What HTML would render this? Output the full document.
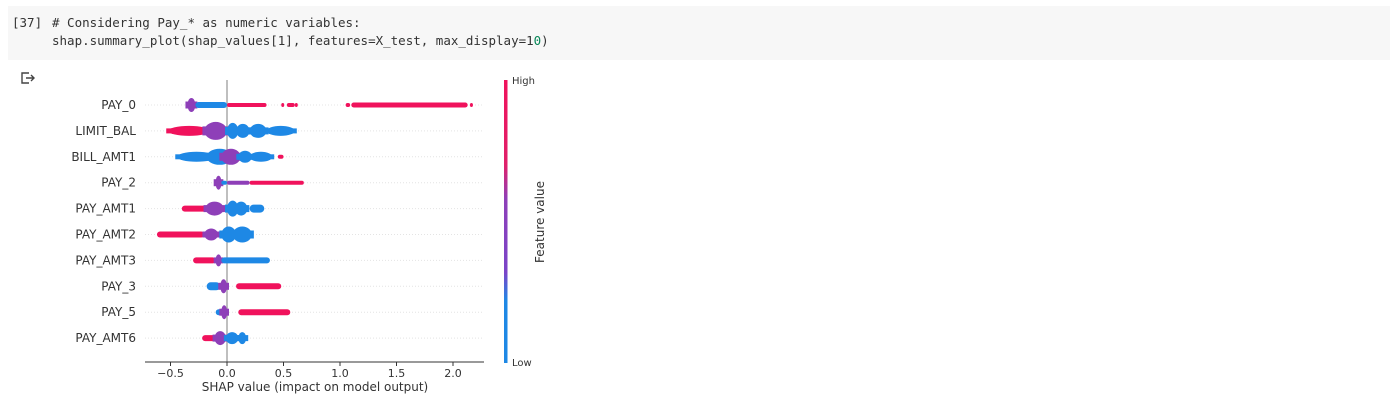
<!DOCTYPE html>
<html><head><meta charset="utf-8">
<style>
body{margin:0;width:1400px;height:402px;background:#fff;overflow:hidden;font-family:"DejaVu Sans","Liberation Sans",sans-serif;}
.cell{position:absolute;left:8px;top:6px;width:1382px;height:54px;background:#f7f7f7;}
.code{position:absolute;font-family:"DejaVu Sans Mono","Liberation Mono",monospace;font-size:12.5px;color:#333;white-space:pre;}
</style></head><body>
<div class="cell"></div>
<div class="code" style="left:12px;top:15px">[37]</div>
<div class="code" style="left:52px;top:15px"># Considering Pay_* as numeric variables:</div>
<div class="code" style="left:52px;top:33px">shap.summary_plot(shap_values[1], features=X_test, max_display=1<span style="color:#098658">0</span>)</div>
<svg style="position:absolute;left:20px;top:71px" width="16" height="14"><path d="M9 2H2v10h7M6 7h8M11 4l3 3-3 3" fill="none" stroke="#444" stroke-width="1.4"/></svg>
<svg id="chart" style="position:absolute;left:0;top:0" width="1400" height="402"></svg>
<script>
const features=["PAY_0","LIMIT_BAL","BILL_AMT1","PAY_2","PAY_AMT1","PAY_AMT2","PAY_AMT3","PAY_3","PAY_5","PAY_AMT6"];
const segStart=[
[-0.35,-0.28,0.0,0.48,0.53,0.6,1.05,1.1,2.15],
[-0.52,-0.2,0.0,0.08,0.2,0.35],
[-0.44,-0.18,-0.05,0.1,0.2,0.45],
[-0.1,-0.05,0.0,0.2],
[-0.4,-0.19,0.0,0.07,0.2],
[-0.62,-0.2,-0.05,0.05],
[-0.3,-0.1,-0.05],
[-0.18,-0.06,0.08],
[-0.1,-0.05,0.1],
[-0.22,-0.11,-0.01,0.1]];
const segEnd=[
[-0.28,0.0,0.35,0.5,0.6,0.62,1.09,2.13,2.17],
[-0.15,0.0,0.1,0.2,0.35,0.6],
[-0.1,0.05,0.12,0.22,0.4,0.5],
[-0.05,0.0,0.2,0.68],
[-0.18,-0.03,0.1,0.18,0.33],
[-0.2,-0.08,0.08,0.22],
[-0.1,-0.05,0.38],
[-0.06,0.0,0.48],
[0.0,0.0,0.56],
[-0.1,-0.01,0.1,0.17]];
const segHalf=[
[7,3,2,2,2,2,2,2.5,2],
[5,9,8,7,7,5],
[5,8,8,6,5,2],
[7,2,2,2],
[3,7,8,7,4],
[3,6,8,8],
[3,6,3],
[4,7,3],
[3,7,3],
[3,7,6,6]];
const segColor=[
["p","b","r","r","r","r","r","r","r"],
["r","p","b","b","b","b"],
["b","b","p","b","b","r"],
["p","b","p","r"],
["r","p","b","b","b"],
["r","p","b","b"],
["r","p","b"],
["b","p","r"],
["b","p","r"],
["r","p","b","b"]];
const xTicks=[-0.5,0,0.5,1,1.5,2];
const xTickLabels=["\u22120.5","0.0","0.5","1.0","1.5","2.0"];
const COL={r:"#f0125c",b:"#1e88e5",p:"#8e3fb8"};
const NS="http://www.w3.org/2000/svg";
const svg=document.getElementById('chart');
const x0=227,k=113,y0=105,dy=25.9;
const X=v=>x0+v*k, Y=i=>y0+i*dy;
function el(t,a){const e=document.createElementNS(NS,t);for(const n in a)e.setAttribute(n,a[n]);svg.appendChild(e);return e;}
features.forEach((f,i)=>{
 const g=el('line',{x1:145,x2:484,y1:Y(i),y2:Y(i),stroke:"#e4e4e4","stroke-width":1,"stroke-dasharray":"1 2"});
 
 
 const t=el('text',{x:136,y:Y(i)+4,"text-anchor":"end","font-size":12,fill:"#333"});t.textContent=f;
 
 
});
const zl=el('line',{x1:X(0),x2:X(0),y1:80,y2:362,stroke:"#aaa","stroke-width":1.5});


features.forEach((f,i)=>{
 segStart[i].forEach((s,j)=>{
  const a=X(s),b=X(segEnd[i][j]),h=segHalf[i][j],c=COL[segColor[i][j]];
  let m;
  if(h>=5){
   const r=el('rect',{x:a-2,y:Y(i)-h*0.5,width:Math.max(b-a,3)+4,height:h,fill:c});
   
   
   m=el('ellipse',{cx:(a+b)/2,cy:Y(i),rx:Math.max((b-a)/2,3),ry:h,fill:c});}
  else{m=el('rect',{x:a,y:Y(i)-h,width:Math.max(b-a,3),height:2*h,rx:h,fill:c});}
  
  
 });
});
const ax=el('line',{x1:145,x2:484,y1:362,y2:362,stroke:"#333","stroke-width":1});


xTicks.forEach((v,i)=>{
 const tk=el('line',{x1:X(v),x2:X(v),y1:362,y2:366,stroke:"#333"});
 
 
 const t=el('text',{x:X(v),y:377,"text-anchor":"middle","font-size":11,fill:"#333"});t.textContent=xTickLabels[i];
 
 
});
const xt=el('text',{x:315,y:391,"text-anchor":"middle","font-size":12,fill:"#333"});xt.textContent="SHAP value (impact on model output)";


const defs=el('defs',{});
defs.innerHTML='<linearGradient id="cb" x1="0" y1="0" x2="0" y2="1"><stop offset="0" stop-color="#f0125c"/><stop offset="0.3" stop-color="#e0206a"/><stop offset="0.42" stop-color="#8e3fb8"/><stop offset="0.68" stop-color="#7a44c8"/><stop offset="0.78" stop-color="#1e88e5"/><stop offset="1" stop-color="#1e88e5"/></linearGradient>';
const cb=el('rect',{x:504,y:80,width:3.5,height:283,fill:"url(#cb)"});


const hi=el('text',{x:512,y:84,"font-size":10,fill:"#333"});hi.textContent="High";


const lo=el('text',{x:512,y:366,"font-size":10,fill:"#333"});lo.textContent="Low";


const fv=el('text',{x:0,y:0,"font-size":12,fill:"#333","text-anchor":"middle",transform:"translate(544,222) rotate(-90)"});fv.textContent="Feature value";


</script>
</body></html>
